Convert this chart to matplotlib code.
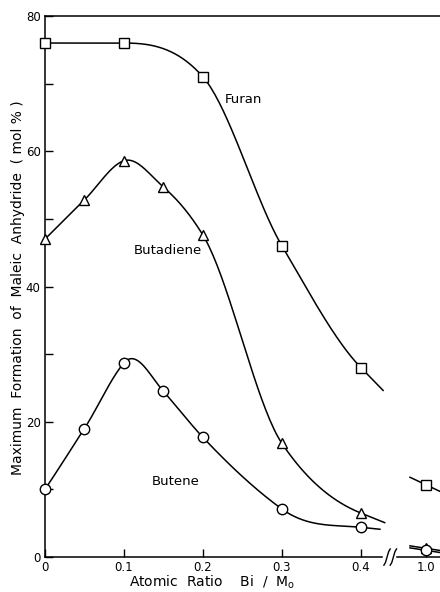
import numpy as np
import matplotlib.pyplot as plt

# Bi/Mo atomic ratio; 1.0 sits past the axis break
ratio = [0, 0.05, 0.1, 0.15, 0.2, 0.3, 0.4, 1.0]
ratio_furan = [0, 0.1, 0.2, 0.3, 0.4, 1.0]

furan = [76, 76, 71, 46, 28, 10.7]
butadiene = [47, 52.8, 58.6, 54.7, 47.6, 16.8, 6.5, 1.3]
butene = [10, 19, 28.7, 24.5, 17.7, 7.1, 4.4, 1.0]

x_ticks = [0, 0.1, 0.2, 0.3, 0.4, 1.0]
x_ticklabels = ['0', '0.1', '0.2', '0.3', '0.4', '1.0']

# where the broken axis puts x = 1.0
X_FAR = 0.482
X_BREAK = 0.433


def axis_x(v):
    v = np.asarray(v, dtype=float)
    return np.where(v > 0.5, X_FAR, v)


def akima_slopes(x, y, modified=False):
    d = np.diff(y) / np.diff(x)
    n = len(d)
    ext = np.empty(n + 4)
    ext[2:-2] = d
    ext[1] = 2 * d[0] - d[1]
    ext[0] = 2 * ext[1] - d[0]
    ext[-2] = 2 * d[-1] - d[-2]
    ext[-1] = 2 * ext[-2] - d[-1]
    m = np.empty(len(x))
    for i in range(len(x)):
        a, b, c, e = ext[i], ext[i + 1], ext[i + 2], ext[i + 3]
        w1 = abs(e - c)
        w2 = abs(b - a)
        if modified:
            w1 += abs(e + c) / 2
            w2 += abs(b + a) / 2
        m[i] = (b + c) / 2 if w1 + w2 == 0 else (w1 * b + w2 * c) / (w1 + w2)
    # keep the curve level next to a flat stretch
    for i in range(len(x)):
        if (i > 0 and d[i - 1] == 0) or (i < n and d[i] == 0):
            m[i] = 0.0
    return m


def smooth(x, y, tail, x_end, modified=False):
    x = np.asarray(x, float)
    y = np.asarray(y, float)
    m = akima_slopes(x, y, modified)
    m[-1] = tail
    xs, ys = [], []
    t = np.linspace(0, 1, 40)
    h00 = 2 * t**3 - 3 * t**2 + 1
    h10 = t**3 - 2 * t**2 + t
    h01 = -2 * t**3 + 3 * t**2
    h11 = t**3 - t**2
    for i in range(len(x) - 1):
        h = x[i + 1] - x[i]
        xs.append(x[i] + t * h)
        ys.append(h00 * y[i] + h10 * h * m[i] + h01 * y[i + 1] + h11 * h * m[i + 1])
    xs.append([x_end])
    ys.append([y[-1] + tail * (x_end - x[-1])])
    return np.concatenate(xs), np.concatenate(ys)


fig = plt.figure(figsize=(4.4, 5.92), dpi=100)
ax = fig.add_axes([0.102, 0.059, 0.898, 0.914])

line_kw = dict(color='black', lw=1.1)
mk_kw = dict(color='black', mfc='white', mec='black', mew=1.0, ls='none', zorder=5)

series = [
    # x, y, marker, size, end slope, end x, slope at 1.0, modified akima
    (ratio_furan, furan, 's', 6.5, -120, 0.428, -55, False),
    (ratio, butadiene, '^', 7, -47, 0.430, -18, True),
    (ratio, butene, 'o', 7.5, -12, 0.424, -18, False),
]

for xv, yv, mk, ms, tail, x_end, far_slope, mod in series:
    cx, cy = smooth(xv[:-1], yv[:-1], tail, x_end, mod)
    ax.plot(cx, cy, **line_kw)
    # short stub through the 1.0 point
    sx = np.array([X_FAR - 0.02, 0.5])
    ax.plot(sx, yv[-1] + far_slope * (sx - X_FAR), clip_on=False, **line_kw)
    ax.plot(axis_x(xv), yv, marker=mk, ms=ms, clip_on=False, **mk_kw)

ax.text(0.228, 67.6, 'Furan', fontsize=9.5, va='center')
ax.text(0.113, 45.4, 'Butadiene', fontsize=9.5, va='center')
ax.text(0.135, 11.1, 'Butene', fontsize=9.5, va='center')

ax.set_xlim(0, 0.5)
ax.set_ylim(0, 80)

ax.set_xticks(axis_x(x_ticks))
ax.set_xticklabels(x_ticklabels)
ax.set_yticks([0, 20, 40, 60, 80])
ax.set_yticks([10, 30, 50, 70], minor=True)
ax.tick_params(direction='in', length=6, width=1, labelsize=8.5, pad=3)
ax.tick_params(which='minor', direction='in', length=6, width=1)

ax.spines['right'].set_visible(False)
ax.spines['bottom'].set_visible(False)
for s in ['left', 'top']:
    ax.spines[s].set_linewidth(1.1)

# bottom axis drawn in two pieces with the break marks
ax.plot([0, X_BREAK - 0.006], [0, 0], color='black', lw=1.1, clip_on=False)
ax.plot([X_BREAK + 0.012, 0.5], [0, 0], color='black', lw=1.1, clip_on=False)
for dx in (0.0, 0.008):
    bx = X_BREAK + dx + np.array([-0.004, -0.002, 0.002, 0.004])
    by = np.array([-1.2, -0.8, 0.8, 1.2])
    ax.plot(bx, by, color='black', lw=1.0, clip_on=False)

fig.text(0.042, 1 - 288 / 592, 'Maximum  Formation  of  Maleic  Anhydride  ( mol % )',
         rotation=90, ha='center', va='center', fontsize=10)
fig.text(0.482, 0.009, 'Atomic  Ratio    Bi  /  M$_\\mathrm{o}$',
         ha='center', va='baseline', fontsize=10)

fig.savefig('out.png', dpi=100)
